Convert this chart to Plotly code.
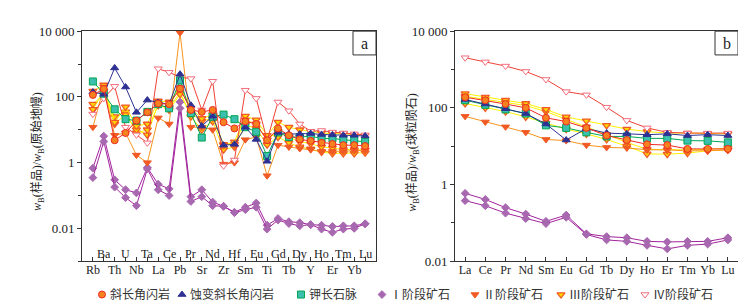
import plotly.graph_objects as go

# ---------------- data ----------------
pm_elements = ["Rb", "Ba", "Th", "U", "Nb", "Ta", "La", "Ce", "Pb", "Pr", "Sr", "Nd", "Zr",
               "Hf", "Sm", "Eu", "Ti", "Gd", "Tb", "Dy", "Y", "Ho", "Er", "Tm", "Yb", "Lu"]
ree_elements = ["La", "Ce", "Pr", "Nd", "Sm", "Eu", "Gd", "Tb", "Dy", "Ho", "Er", "Tm", "Yb", "Lu"]

# primitive-mantle normalised (panel a)
pm_plag_amph = [115, 175, 4.8, 8, 19, 34, 63, 60, 178, 40, 35, 40, 17, 11, 18, 15, 4.8, 11, 6.8, 5.1, 4.6, 4.0, 3.7, 3.4, 3.4, 3.2]
pm_alt_amph = [140, 120, 760, 200, 34, 80, 68, 60, 490, 56, 13, 26, 3.4, 3.6, 12, 5.1, 1.1, 8.3, 7.4, 7.4, 7.7, 7.2, 7.0, 6.8, 6.8, 6.5]
pm_kfs_vein = [295, 125, 42, 21, 19, 35, 60, 45, 315, 32, 5.8, 25, 29, 21, 12, 8.7, 1.6, 8.3, 6.0, 6.0, 6.4, 5.4, 5.4, 5.0, 4.8, 4.3]
pm_stage1_a = [0.68, 6.4, 0.30, 0.15, 0.12, 0.71, 0.22, 0.16, 70, 0.092, 0.15, 0.063, 0.047, 0.031, 0.044, 0.059, 0.0125, 0.020, 0.016, 0.015, 0.013, 0.0125, 0.0114, 0.012, 0.012, 0.0138]
pm_stage1_b = [0.35, 4.4, 0.18, 0.086, 0.049, 0.64, 0.15, 0.10, 45, 0.066, 0.092, 0.049, 0.047, 0.030, 0.037, 0.044, 0.0095, 0.018, 0.014, 0.012, 0.013, 0.0095, 0.0076, 0.0095, 0.010, 0.0138]
pm_stage2 = [12, 200, 6.8, 8, 1.7, 1.0, 23, 15, 9000, 12, 12, 10, 0.9, 1.0, 5, 6, 0.4, 3.4, 3.0, 2.7, 2.5, 2.2, 2.2, 2.2, 2.3, 2.4]
pm_stage3_a = [150, 230, 17, 50, 13, 15, 75, 70, 190, 45, 22, 29, 3.4, 4.3, 26, 20, 6.8, 17, 12, 10, 9, 8, 7.6, 7.6, 7, 6.8]
pm_stage3_b = [42, 150, 15, 29, 10, 7, 63, 40, 120, 32, 18, 23, 3.6, 3.6, 20, 15, 5, 9, 6, 4.3, 3.8, 3, 2.8, 2.5, 2.5, 2.4]
pm_stage3_c = [60, 120, 25, 35, 8, 10, 55, 45, 140, 25, 10, 18, 2.5, 3, 14, 11, 3.5, 6, 4, 3, 2.6, 2.1, 1.9, 1.9, 1.9, 2.0]
pm_stage4 = [30, 90, 210, 12, 7, 4, 720, 560, 400, 360, 40, 300, 0.8, 1.2, 160, 90, 4.8, 70, 38, 15, 9, 9.5, 8.5, 8, 7.5, 7]

# chondrite normalised (panel b)
ree_plag_amph = [190, 158, 126, 100, 55, 44, 30, 19, 14.5, 11.2, 10.7, 8.5, 8.5, 8.5]
ree_alt_amph = [166, 126, 95, 71, 38, 14.5, 29, 22, 21, 20, 21, 19, 20, 19]
ree_kfs_vein = [158, 120, 91, 71, 35, 30, 23, 18, 18, 16, 16, 14, 13.8, 12.6]
ree_stage1_a = [0.59, 0.41, 0.25, 0.17, 0.11, 0.16, 0.052, 0.044, 0.041, 0.033, 0.032, 0.033, 0.033, 0.041]
ree_stage1_b = [0.38, 0.28, 0.18, 0.13, 0.096, 0.14, 0.050, 0.036, 0.033, 0.026, 0.021, 0.026, 0.028, 0.036]
ree_stage2 = [60, 43, 32, 23, 15, 14, 10.7, 9.3, 9, 8.1, 8, 7.6, 7.6, 8]
ree_stage3_a = [235, 190, 158, 130, 91, 58, 46, 35, 28, 24, 22, 22, 21.5, 21]
ree_stage3_b = [200, 166, 138, 115, 80, 50, 32, 20, 12.6, 8.3, 8, 8, 8.3, 9]
ree_stage3_c = [130, 100, 80, 58, 40, 28, 21, 15, 10, 6.3, 6.2, 6.6, 7.6, 8]
ree_stage4 = [2030, 1580, 1230, 890, 550, 265, 218, 104, 47, 30, 23, 22, 22, 22]

group_names = ["斜长角闪岩", "蚀变斜长角闪岩", "钾长石脉", "Ⅰ阶段矿石", "Ⅱ阶段矿石", "Ⅲ阶段矿石", "Ⅳ阶段矿石"]

y_tick_vals = [0.01, 1, 100, 10000]
y_tick_text = ["0.01", "1", "100", "10 000"]
y_minor_vals = [0.001, 0.1, 10, 1000]

# ---------------- styles ----------------
styles = {
    "斜长角闪岩": dict(line="#ee2a24", marker=dict(symbol="circle", size=7, color="#f5821f", line=dict(color="#ee2a24", width=1))),
    "蚀变斜长角闪岩": dict(line="#2e3192", marker=dict(symbol="triangle-up", size=7, color="#2e3192", line=dict(color="#2e3192", width=1))),
    "钾长石脉": dict(line="#00a651", marker=dict(symbol="square", size=7, color="#3cbfae", line=dict(color="#00a651", width=1))),
    "Ⅰ阶段矿石": dict(line="#a2239c", marker=dict(symbol="diamond", size=6, color="#a868b0", line=dict(color="#a868b0", width=1))),
    "Ⅱ阶段矿石": dict(line="#f7941d", marker=dict(symbol="triangle-down", size=7, color="#f15a24", line=dict(color="#f15a24", width=1))),
    "Ⅲ阶段矿石": dict(line="#fff200", marker=dict(symbol="triangle-down", size=7, color="#ffd400", line=dict(color="#f15a24", width=1.3))),
    "Ⅳ阶段矿石": dict(line="#ef4136", marker=dict(symbol="triangle-down", size=7, color="#ffffff", line=dict(color="#f26d7d", width=1))),
}

panel_a = [
    ("Ⅰ阶段矿石", pm_stage1_a), ("Ⅰ阶段矿石", pm_stage1_b),
    ("Ⅲ阶段矿石", pm_stage3_c), ("Ⅲ阶段矿石", pm_stage3_b), ("Ⅲ阶段矿石", pm_stage3_a),
    ("Ⅱ阶段矿石", pm_stage2), ("Ⅳ阶段矿石", pm_stage4),
    ("钾长石脉", pm_kfs_vein), ("蚀变斜长角闪岩", pm_alt_amph), ("斜长角闪岩", pm_plag_amph),
]
panel_b = [
    ("Ⅰ阶段矿石", ree_stage1_a), ("Ⅰ阶段矿石", ree_stage1_b),
    ("Ⅲ阶段矿石", ree_stage3_c), ("Ⅲ阶段矿石", ree_stage3_b), ("Ⅲ阶段矿石", ree_stage3_a),
    ("Ⅱ阶段矿石", ree_stage2), ("Ⅳ阶段矿石", ree_stage4),
    ("钾长石脉", ree_kfs_vein), ("蚀变斜长角闪岩", ree_alt_amph), ("斜长角闪岩", ree_plag_amph),
]

fig = go.Figure()
for name, vals in panel_a:
    st = styles[name]
    fig.add_trace(go.Scatter(x=pm_elements, y=vals, mode="lines+markers", name=name,
                             line=dict(color=st["line"], width=1), marker=st["marker"],
                             xaxis="x", yaxis="y", showlegend=False, cliponaxis=False))
for name, vals in panel_b:
    st = styles[name]
    fig.add_trace(go.Scatter(x=ree_elements, y=vals, mode="lines+markers", name=name,
                             line=dict(color=st["line"], width=1), marker=st["marker"],
                             xaxis="x2", yaxis="y2", showlegend=False, cliponaxis=False))

# manual legend (markers only)
W, H = 746, 305
legend_px = [94, 174, 293, 374, 467, 553, 637]
for name, px in zip(group_names, legend_px):
    fig.add_trace(go.Scatter(x=[px], y=[0.5], mode="markers", marker=styles[name]["marker"],
                             xaxis="x3", yaxis="y3", showlegend=False, hoverinfo="skip"))

SERIF = "Liberation Serif"
MIXED = "Liberation Serif, Noto Sans CJK SC"
AX = "#333333"

def yaxis(rng, dom, anchor):
    return dict(type="log", range=rng, domain=dom, anchor=anchor, showline=True, mirror=True,
                linecolor=AX, linewidth=1, ticks="outside", ticklen=4, tickcolor=AX,
                tickvals=y_tick_vals, ticktext=y_tick_text, showgrid=False, zeroline=False,
                tickfont=dict(family=SERIF, size=13, color="#222"),
                minor=dict(ticks="outside", ticklen=3, tickcolor=AX, tickvals=y_minor_vals, showgrid=False))

def xaxis(rng, dom, anchor, tickvals, ticktext):
    return dict(type="category", range=rng, domain=dom, anchor=anchor, showline=True, mirror=True,
                linecolor=AX, linewidth=1, ticks="inside", ticklen=4, tickcolor=AX,
                tickvals=tickvals, ticktext=ticktext, showgrid=False, zeroline=False,
                ticklabelstandoff=-3,
                tickfont=dict(family=SERIF, size=12, color="#222"), tickangle=0)

ydom = [46 / H, 288 / H]
lower_text = [e if i % 2 == 0 else "" for i, e in enumerate(pm_elements)]

annotations = []
# upper-row labels for panel a (inside the frame)
for i, e in enumerate(pm_elements):
    if i % 2 == 1:
        annotations.append(dict(x=e, y=(H - 251) / H, xref="x", yref="paper", text=e, showarrow=False,
                                font=dict(family=SERIF, size=12, color="#222"), yanchor="middle"))

title_font = dict(family=MIXED, size=12, color="#222")
annotations.append(dict(x=30 / W, y=(H - 144) / H, xref="paper", yref="paper", textangle=-90, showarrow=False,
                        xanchor="center", yanchor="middle",
                        text="<i>w</i><sub>B</sub>(样品)/<i>w</i><sub>B</sub>(原始地幔)", font=title_font))
annotations.append(dict(x=405 / W, y=(H - 145) / H, xref="paper", yref="paper", textangle=-90, showarrow=False,
                        xanchor="center", yanchor="middle",
                        text="<i>w</i><sub>B</sub>(样品)/<i>w</i><sub>B</sub>(球粒陨石)", font=title_font))

# panel letters
for letter, (x0, x1) in (("a", (345, 368)), ("b", (707, 730))):
    annotations.append(dict(x=(x0 + x1) / 2 / W, y=(H - 29.5) / H, xref="paper", yref="paper", text=letter,
                            showarrow=False, font=dict(family=SERIF, size=16, color="#222"),
                            xanchor="center", yanchor="middle"))

# legend texts
for name, px in zip(group_names, legend_px):
    annotations.append(dict(x=(px + 6) / W, y=11 / H, xref="paper", yref="paper", text=name, showarrow=False,
                            xanchor="left", yanchor="middle", font=dict(family=MIXED, size=12, color="#333")))

shapes = []
for (x0, x1) in ((345, 368), (707, 730)):
    shapes.append(dict(type="rect", xref="paper", yref="paper", x0=x0 / W, x1=x1 / W, y0=(H - 42) / H, y1=(H - 17) / H,
                       line=dict(color=AX, width=1), fillcolor="white"))

fig.update_layout(
    width=W, height=H, margin=dict(l=0, r=0, t=0, b=0), autosize=False,
    paper_bgcolor="white", plot_bgcolor="white", showlegend=False,
    xaxis=xaxis([-1, 26], [74 / W, 368 / W], "y", pm_elements, lower_text),
    yaxis=yaxis([-3, 4], ydom, "x"),
    xaxis2=xaxis([-0.5, 13.5], [447 / W, 730 / W], "y2", ree_elements, ree_elements),
    yaxis2=yaxis([-2, 4], ydom, "x2"),
    xaxis3=dict(domain=[0, 1], range=[0, W], visible=False, anchor="y3", fixedrange=True),
    yaxis3=dict(domain=[0, 22 / H], range=[0, 1], visible=False, anchor="x3", fixedrange=True),
    annotations=annotations, shapes=shapes,
)

fig.write_html("out.html")
